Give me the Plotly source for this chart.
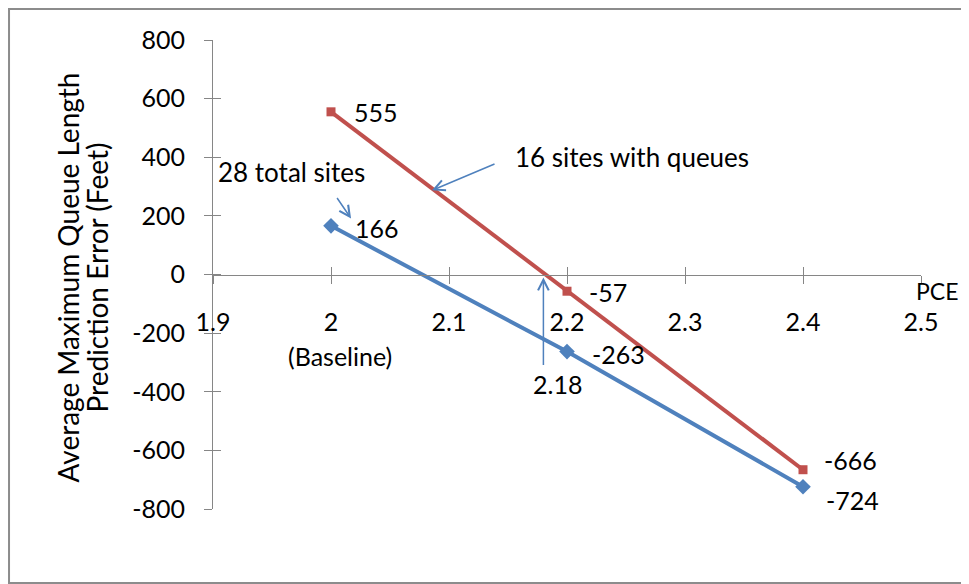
import plotly.graph_objects as go

# ---- data ----
pce = [2.0, 2.2, 2.4]
total_sites = [166, -263, -724]        # 28 total sites (blue)
queue_sites = [555, -57, -666]         # 16 sites with queues (red)
x_tick_vals = [1.9, 2.0, 2.1, 2.2, 2.3, 2.4, 2.5]
x_tick_text = ["1.9", "2", "2.1", "2.2", "2.3", "2.4", "2.5"]
baseline_pce = 2.0
y_tick_vals = [-800, -600, -400, -200, 0, 200, 400, 600, 800]
y_tick_text = ["-800", "-600", "-400", "-200", "0", "200", "400", "600", "800"]
crossing_pce = 2.18
y_title_lines = ["Average Maximum Queue Length", "Prediction Error (Feet)"]

BLUE = "#4F81BD"
RED = "#C0504D"
AXIS = "#868686"
FONT = "Lato"
FS_NUM = 25
FS_TXT = 26

fig = go.Figure()
fig.add_trace(go.Scatter(x=pce, y=total_sites, mode="lines+markers",
                         line=dict(color=BLUE, width=4),
                         marker=dict(symbol="diamond", size=12, color=BLUE),
                         showlegend=False, hoverinfo="skip"))
fig.add_trace(go.Scatter(x=pce, y=queue_sites, mode="lines+markers",
                         line=dict(color=RED, width=4),
                         marker=dict(symbol="square", size=9, color=RED),
                         showlegend=False, hoverinfo="skip"))
# dummy trace on overlay axes (used to draw crossing tick marks)
fig.add_trace(go.Scatter(x=[None], y=[None], xaxis="x2", yaxis="y2",
                         showlegend=False, hoverinfo="skip"))

annotations = []
num_font = dict(family=FONT, size=FS_NUM, color="#000")
txt_font = dict(family=FONT, size=FS_TXT, color="#000")
# data labels
blue_offsets = [(22, -2), (23, -2), (21, -13)]
red_offsets = [(21, 0), (20, -1), (19, 10)]
for xv, yv, (dx, dy) in zip(pce, total_sites, blue_offsets):
    annotations.append(dict(x=xv, y=yv, text=str(yv), showarrow=False,
                            xanchor="left", yanchor="middle", xshift=dx, yshift=dy,
                            font=num_font))
for xv, yv, (dx, dy) in zip(pce, queue_sites, red_offsets):
    annotations.append(dict(x=xv, y=yv, text=str(yv), showarrow=False,
                            xanchor="left", yanchor="middle", xshift=dx, yshift=dy,
                            font=num_font))

arrow = dict(text="", showarrow=True, arrowhead=5, arrowsize=1.4,
             arrowwidth=1.5, arrowcolor=BLUE)
annotations += [
    dict(x=2.017, y=191, ax=-15, ay=-22, **arrow),
    dict(x=1.9, y=350, xanchor="left", xshift=3, text="28 total sites",
         showarrow=False, font=txt_font),
    dict(x=2.0856, y=287, ax=64, ay=-27, **arrow),
    dict(x=2.1545, y=400, xanchor="left", text="16 sites with queues",
         showarrow=False, font=txt_font),
    dict(x=crossing_pce, y=-10, ax=0, ay=89, **arrow),
    dict(x=crossing_pce, y=-375, xshift=14, text=str(crossing_pce),
         showarrow=False, font=num_font),
    dict(x=2.5, y=0, xshift=16, yshift=-16, text="PCE", showarrow=False,
         font=dict(family=FONT, size=FS_NUM - 2, color="#000")),
    dict(x=baseline_pce, y=0, xshift=9, yshift=-81, text="(Baseline)",
         showarrow=False, font=num_font),
]
# y-axis title, two lines with tight spacing
for line, px in zip(y_title_lines, [-146, -117]):
    annotations.append(dict(xref="paper", yref="paper", x=0, xshift=px, y=0.5,
                            yshift=-3, xanchor="center", yanchor="middle",
                            textangle=-90, text=line, showarrow=False,
                            font=dict(family=FONT, size=28, color="#000")))

axis_common = dict(showgrid=False, zeroline=False, showline=True,
                   linecolor=AXIS, linewidth=1, tickcolor=AXIS, ticklen=8)

# the page body has an 8px default margin; size the figure to fill the window
fig.update_layout(
    width=961, height=576,
    margin=dict(l=205, r=48, t=32, b=75),
    paper_bgcolor="white", plot_bgcolor="white",
    font=dict(family=FONT, size=FS_NUM, color="#000"),
    xaxis=dict(range=[1.9, 2.5], tickvals=x_tick_vals, ticktext=x_tick_text,
               anchor="free", position=0.5, ticks="outside",
               tickfont=num_font, ticklabelstandoff=17, **axis_common),
    yaxis=dict(range=[-800, 800], tickvals=y_tick_vals, ticktext=y_tick_text,
               ticks="outside", tickfont=num_font, ticklabelstandoff=14,
               **axis_common),
    xaxis2=dict(range=[1.9, 2.5], tickvals=x_tick_vals, overlaying="x",
                anchor="free", position=0.5, ticks="inside",
                showticklabels=False, **axis_common),
    yaxis2=dict(range=[-800, 800], tickvals=y_tick_vals, overlaying="y",
                anchor="x", ticks="inside", showticklabels=False, **axis_common),
    annotations=annotations,
    shapes=[dict(type="rect", xref="paper", yref="paper",
                 x0=-0.2881, x1=1.0636, y0=-0.1578, y1=1.066,
                 line=dict(color="#8c8c8c", width=2), layer="below")],
)

fig.write_html("out.html")
